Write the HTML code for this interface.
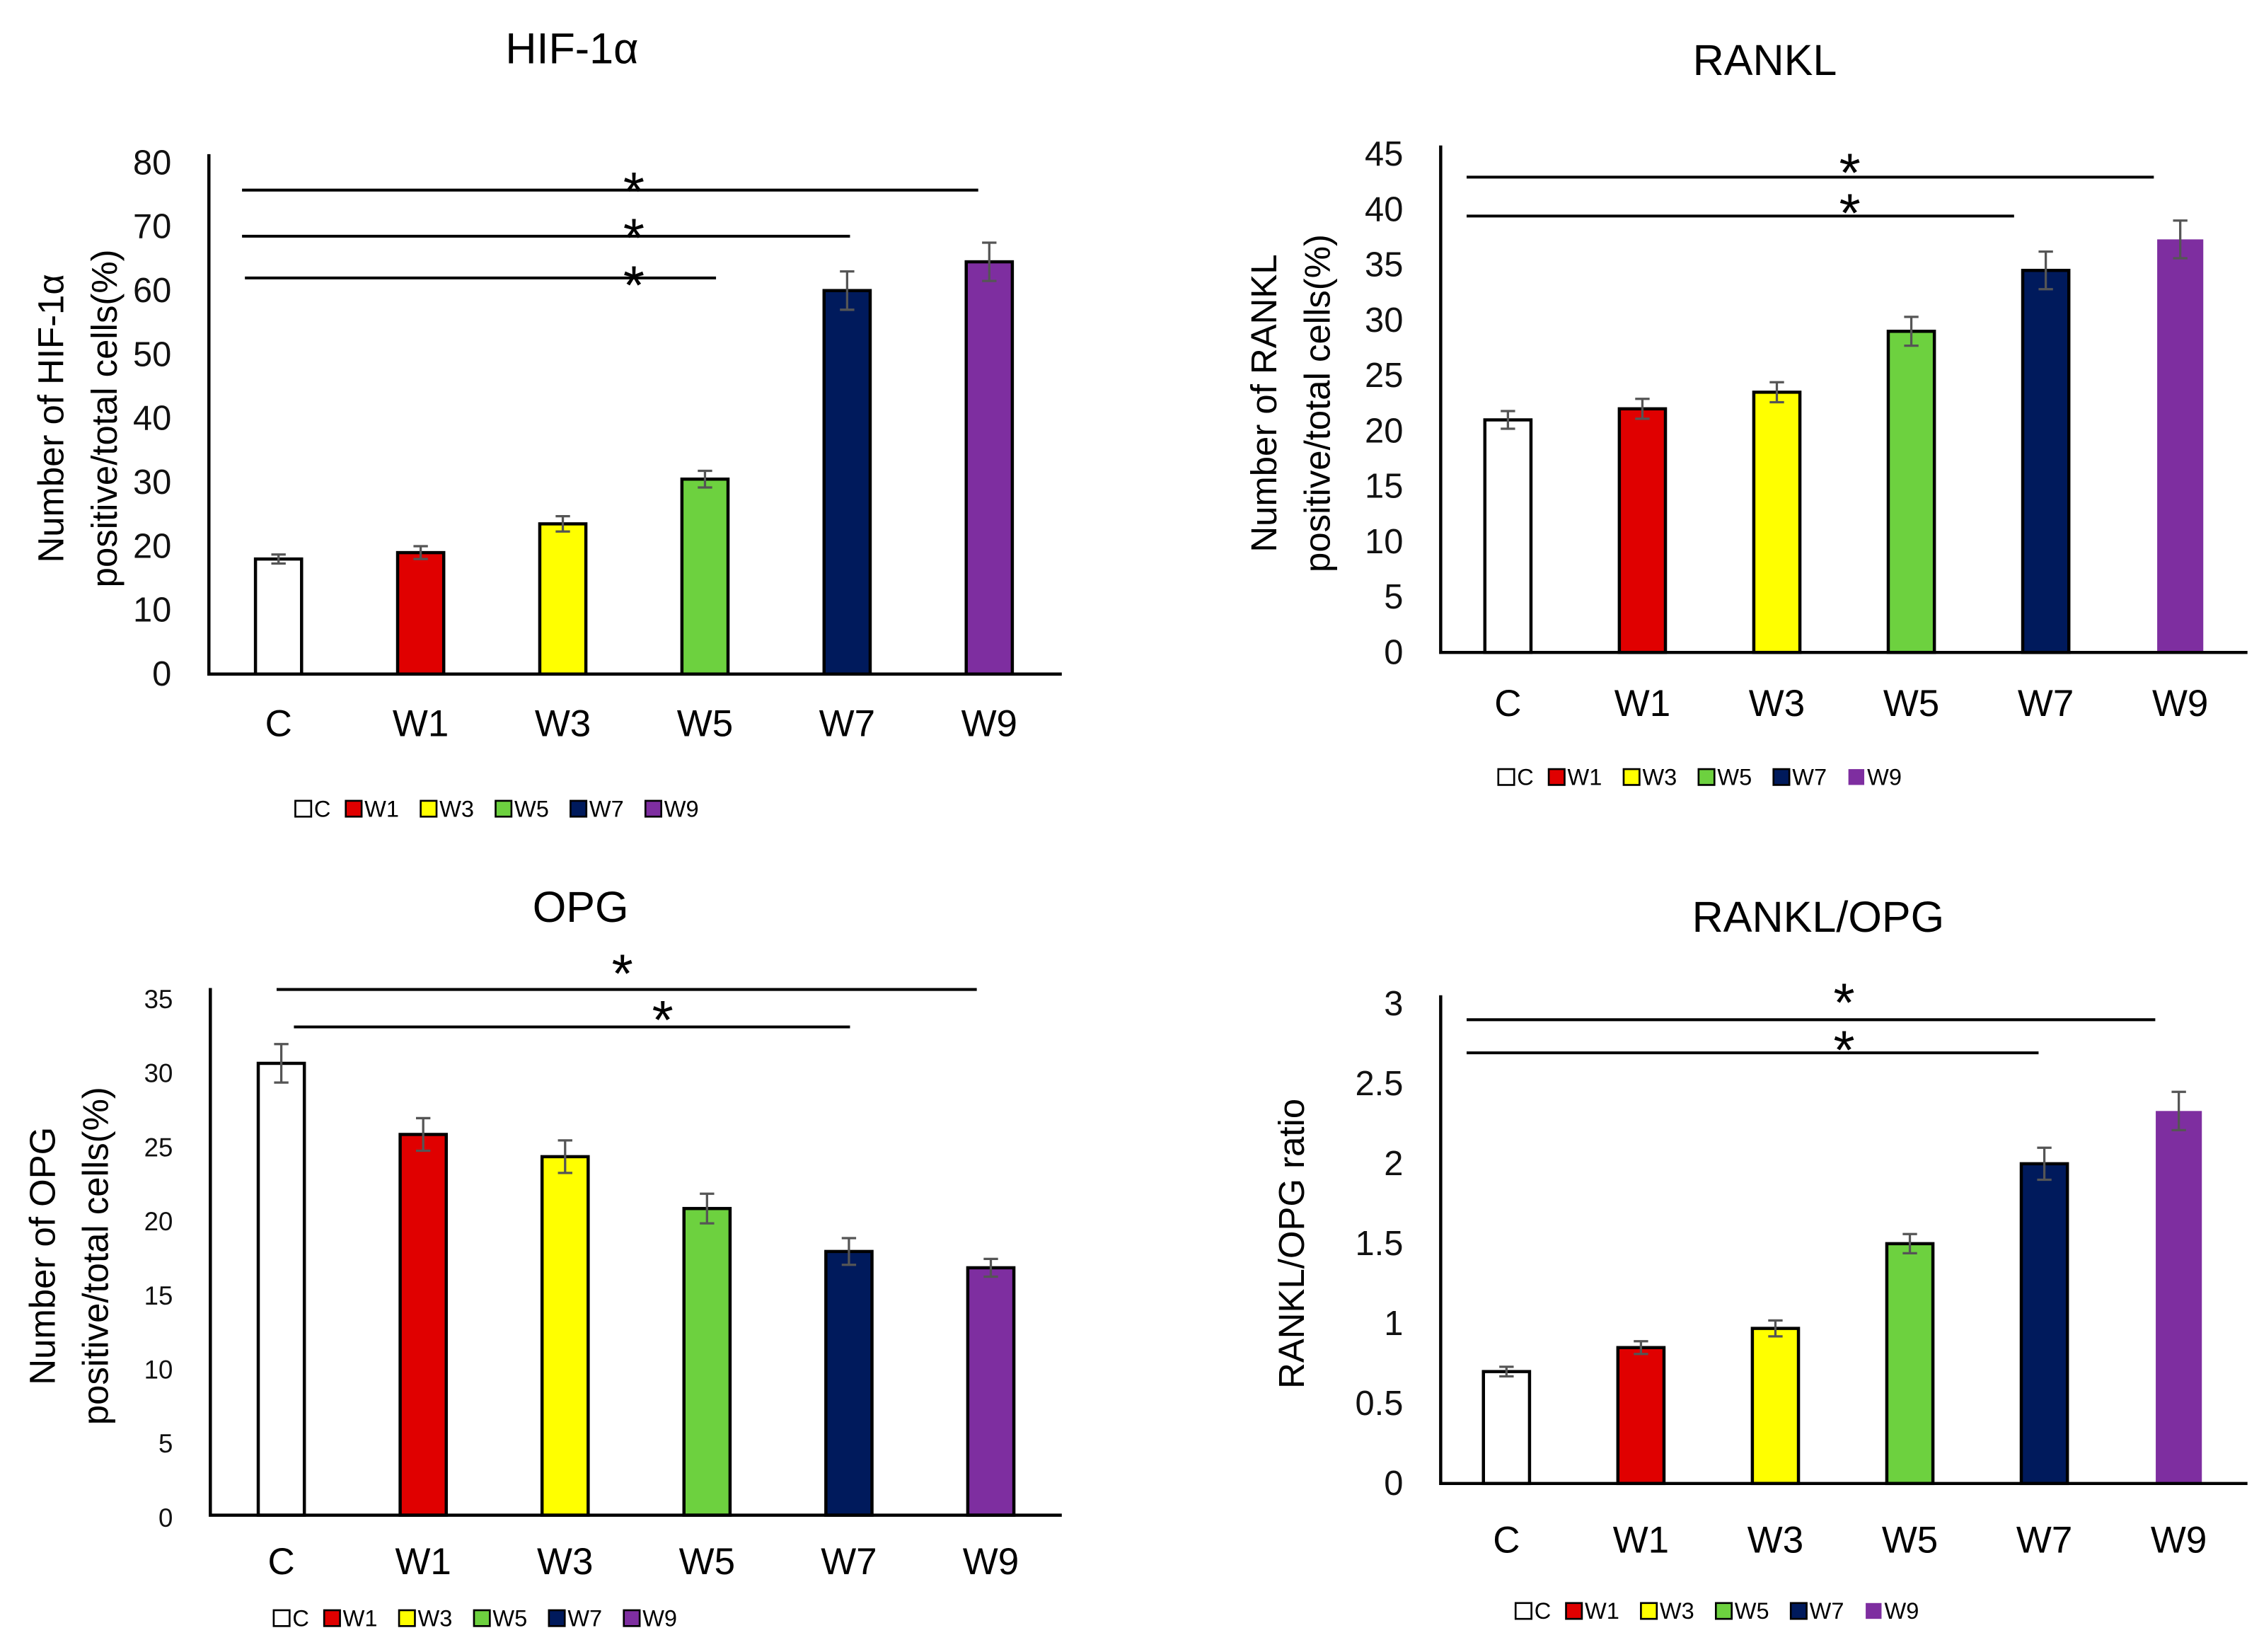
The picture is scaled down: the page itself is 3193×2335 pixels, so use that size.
<!DOCTYPE html>
<html><head><meta charset="utf-8">
<style>
html,body{margin:0;padding:0;background:#fff;}
svg{display:block;font-family:"Liberation Sans",Arial,sans-serif;}
</style></head>
<body>
<svg id="root" width="3193" height="2335" viewBox="0 0 1568 1147" preserveAspectRatio="none" xmlns="http://www.w3.org/2000/svg">
<rect width="1568" height="1147" fill="#fff"/>
</svg>
<script>
const categories = ["C","W1","W3","W5","W7","W9"];
const colors = ["#ffffff","#e00000","#ffff00","#6dd13f","#001a5c","#7e2ea0"];
const hifValues = [18, 19, 23.5, 30.5, 60, 64.5];
const hifErrors = [0.7, 1, 1.2, 1.3, 3, 3];
const hifTicks = [0,10,20,30,40,50,60,70,80];
const ranklValues = [21, 22, 23.5, 29, 34.5, 37.3];
const ranklErrors = [0.8, 0.9, 0.9, 1.3, 1.7, 1.7];
const ranklTicks = [0,5,10,15,20,25,30,35,40,45];
const opgValues = [30.5, 25.7, 24.2, 20.7, 17.8, 16.7];
const opgErrors = [1.3, 1.1, 1.1, 1.0, 0.9, 0.6];
const opgTicks = [0,5,10,15,20,25,30,35];
const ratioValues = [0.7, 0.85, 0.97, 1.5, 2.0, 2.33];
const ratioErrors = [0.03, 0.04, 0.05, 0.06, 0.1, 0.12];
const ratioTicks = [0,0.5,1,1.5,2,2.5,3];

const NS="http://www.w3.org/2000/svg";
const root=document.getElementById('root');
function mk(tag,attrs,parent,txt){const e=document.createElementNS(NS,tag);for(const k in attrs)e.setAttribute(k,attrs[k]);if(txt!==undefined)e.textContent=txt;parent.appendChild(e);return e;}

function drawChart(cfg){
  const g=mk('g',{},root);
  
  
  const max=cfg.ticks[cfg.ticks.length-1];
  const y=v=>cfg.y0-(v/max)*(cfg.y0-cfg.yTop);
  const x=i=>cfg.x0+(i+0.5)*(cfg.xEnd-cfg.x0-cfg.pad)/categories.length+cfg.shift;
  const t=mk('text',{x:cfg.titleX,y:cfg.titleY,'font-size':30,'text-anchor':'middle'},g,cfg.title);
  
  
  cfg.ticks.forEach(v=>{
    const tl=mk('text',{x:cfg.x0-26,y:y(v)+8,'font-size':cfg.tickFont,'text-anchor':'end',fill:'#111'},g,String(v));
    
    
  });
  const yt=mk('text',{transform:`translate(${cfg.ytX},${(cfg.y0+cfg.yTop)/2}) rotate(-90)`,'font-size':25,'text-anchor':'middle'},g);
  
  
  cfg.ytitle.forEach((l,k)=>mk('tspan',{x:0,dy:k===0?0:37},yt,l));
  categories.forEach((c,i)=>{
    const cx=x(i), bw=32, top=y(cfg.values[i]);
    const noBorder=(i===5&&cfg.lastNoBorder);
    const r=mk('rect',{x:cx-bw/2,y:top,width:bw,height:cfg.y0-top,fill:colors[i],stroke:noBorder?'none':'#000','stroke-width':2.2},g);
    
    
    const e1=y(cfg.values[i]+cfg.errors[i]), e2=y(cfg.values[i]-cfg.errors[i]);
    const eb=mk('path',{d:`M${cx},${e1}V${e2}M${cx-5},${e1}H${cx+5}M${cx-5},${e2}H${cx+5}`,stroke:'#555','stroke-width':1.6,fill:'none'},g);
    
    
    const cl=mk('text',{x:cx,y:cfg.catY,'font-size':26,'text-anchor':'middle'},g,c);
    
    
  });
  const ax=mk('path',{d:`M${cfg.x0},${cfg.yTop-6}V${cfg.y0}H${cfg.xEnd}`,stroke:'#000','stroke-width':2.2,fill:'none'},g);
  
  
  cfg.sig.forEach(s=>{
    const l=mk('line',{x1:s[0],x2:s[1],y1:s[2],y2:s[2],stroke:'#000','stroke-width':2},g);
    
    
    const st=mk('text',{x:s[3],y:s[4]+8,'font-size':38,'text-anchor':'middle'},g,'*');
    
    
  });
  let lx=cfg.legX;
  categories.forEach((c,i)=>{
    const lg=mk('g',{},g);
    
    
    mk('rect',{x:lx,y:cfg.legY-11,width:11,height:11,fill:colors[i],stroke:(i===5&&cfg.lastNoBorder)?'none':'#000','stroke-width':1.3},lg);
    mk('text',{x:lx+13,y:cfg.legY,'font-size':16},lg,c);
    lx+=c.length===1?35:52;
  });
}

drawChart({name:'hif-chart',title:'HIF-1α',titleX:397,titleY:44,x0:145,xEnd:737,pad:0,shift:-1,y0:468,yTop:113,
  ticks:hifTicks,values:hifValues,errors:hifErrors,tickFont:24,ytX:44,ytitle:['Number of HIF-1α','positive/total cells(%)'],
  catY:511,legX:205,legY:567,lastNoBorder:false,
  sig:[[168,679,132,440,138],[168,590,164,440,170],[170,497,193,440,203]]});
drawChart({name:'rankl-chart',title:'RANKL',titleX:1225,titleY:52,x0:1000,xEnd:1560,pad:0,shift:0,y0:453,yTop:107,
  ticks:ranklTicks,values:ranklValues,errors:ranklErrors,tickFont:24,ytX:886,ytitle:['Number of RANKL','positive/total cells(%)'],
  catY:497,legX:1040,legY:545,lastNoBorder:true,
  sig:[[1018,1495,123,1284,125],[1018,1398,150,1284,153]]});
drawChart({name:'opg-chart',title:'OPG',titleX:403,titleY:640,x0:146,xEnd:737,pad:0,shift:0,y0:1052,yTop:692,
  ticks:opgTicks,values:opgValues,errors:opgErrors,tickFont:18,ytX:38,ytitle:['Number of OPG','positive/total cells(%)'],
  catY:1093,legX:190,legY:1129,lastNoBorder:false,
  sig:[[192,678,687,432,681],[204,590,713,460,713]]});
drawChart({name:'ratio-chart',title:'RANKL/OPG',titleX:1262,titleY:647,x0:1000,xEnd:1560,pad:0,shift:-1,y0:1030,yTop:697,
  ticks:ratioTicks,values:ratioValues,errors:ratioErrors,tickFont:24,ytX:905,ytitle:['RANKL/OPG ratio'],
  catY:1078,legX:1052,legY:1124,lastNoBorder:true,
  sig:[[1018,1496,708,1280,701],[1018,1415,731,1280,734]]});
</script>
</body></html>
